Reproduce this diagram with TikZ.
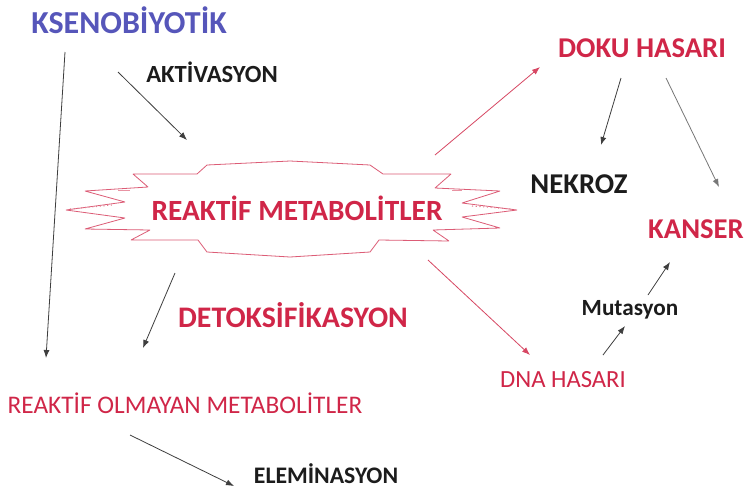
\documentclass[tikz,border=0pt]{standalone}
\usepackage{fontspec}
\setmainfont{Carlito}
\usetikzlibrary{arrows.meta}
\definecolor{kirmizi}{RGB}{208,38,72}
\definecolor{mavi}{RGB}{86,86,186}
\definecolor{koyu}{RGB}{28,28,28}
\newcommand{\boy}[1]{\fontsize{#1}{#1}\selectfont}
\tikzset{
	yazi/.style={inner sep=0pt, anchor=base, font=\bfseries},
	ok/.style={draw=koyu!85, line width=0.6pt, -{Latex[length=6pt,width=4.5pt]}},
	kok/.style={draw=kirmizi!85, line width=0.6pt, -{Latex[length=6pt,width=4.5pt]}}
}
\begin{document}
\begin{tikzpicture}[x=0.75pt,y=-0.75pt]
		\useasboundingbox[fill=white] (0,0) rectangle (746,497);
		% patlama
		\draw[kirmizi!75, line width=0.6pt, line join=bevel]
		(133,174) -- (197,174) -- (207,165) -- (290,161) -- (370,165) -- (383,174)
		-- (451,174) -- (435,188) -- (500,191) -- (462,203) -- (517,210) -- (462,217)
		-- (500,228) -- (433,230) -- (449,241) -- (379,240) -- (370,252) -- (290,257)
		-- (207,252) -- (198,240) -- (131,240) -- (150,230) -- (85,229) -- (125,218)
		-- (66,210) -- (125,202) -- (85,191) -- (148,187) -- cycle;
		\draw[kirmizi!60, line width=0.8pt, dotted] (70,209) -- (112,205);
		\draw[kirmizi!60, line width=0.8pt, dotted] (472,206) -- (512,209);
		\draw[kirmizi!50, line width=0.6pt] (118,190) -- (130,190);
		\draw[kirmizi!50, line width=0.6pt] (452,190) -- (462,190);
		
		% yazilar
		\node[yazi, mavi, font=\bfseries\boy{24}] (ksen) at (129,33) {KSENOBİYOTİK};
		\node[yazi, koyu, font=\bfseries\boy{18.5}] (aktiv) at (212,82) {AKTİVASYON};
		\node[yazi, kirmizi, font=\bfseries\boy{22}] (reaktif) at (297,220) {REAKTİF METABOLİTLER};
		\node[yazi, kirmizi, font=\bfseries\boy{21.5}] (doku) at (642,57) {DOKU HASARI};
		\node[yazi, koyu, font=\bfseries\boy{21.5}] (nekroz) at (579,193) {NEKROZ};
		\node[yazi, kirmizi, font=\bfseries\boy{21.5}] (kanser) at (696,238) {KANSER};
		\node[yazi, koyu, font=\bfseries\boy{17.4}] (mutasyon) at (630,315) {Mutasyon};
		\node[yazi, kirmizi, font=\boy{18.5}] (dna) at (563,387) {DNA HASARI};
		\node[yazi, kirmizi, font=\bfseries\boy{22.4}] (detoks) at (293,327) {DETOKSİFİKASYON};
		\node[yazi, kirmizi, font=\boy{19}] (olmayan) at (185,413) {REAKTİF OLMAYAN METABOLİTLER};
		\node[yazi, koyu, font=\bfseries\boy{17.8}] (elem) at (326,483) {ELEMİNASYON};
		
		% ok uclari
		\coordinate (k1) at (65,52);   \coordinate (k2) at (46,358);
		\coordinate (a1) at (118,72);  \coordinate (a2) at (187,140);
		\coordinate (r1) at (435,155); \coordinate (r2) at (540,67);
		\coordinate (d1) at (621,78);  \coordinate (d2) at (601,145);
		\coordinate (d3) at (666,78);  \coordinate (d4) at (719,187);
		\coordinate (t1) at (175,273); \coordinate (t2) at (143,348);
		\coordinate (e1) at (130,435); \coordinate (e2) at (234,486);
		\coordinate (r3) at (428,260); \coordinate (r4) at (530,355);
		\coordinate (m1) at (603,355); \coordinate (m2) at (625,326);
		\coordinate (m3) at (648,295); \coordinate (m4) at (670,262);
		
		\draw[ok] (k1) -- (k2);
		\draw[ok] (a1) -- (a2);
		\draw[kok] (r1) -- (r2);
		\draw[ok] (d1) -- (d2);
		\draw[ok, draw=koyu!60] (d3) -- (d4);
		\draw[ok] (t1) -- (t2);
		\draw[ok] (e1) -- (e2);
		\draw[kok] (r3) -- (r4);
		\draw[ok] (m1) -- (m2);
		\draw[ok] (m3) -- (m4);
\end{tikzpicture}
\end{document}
